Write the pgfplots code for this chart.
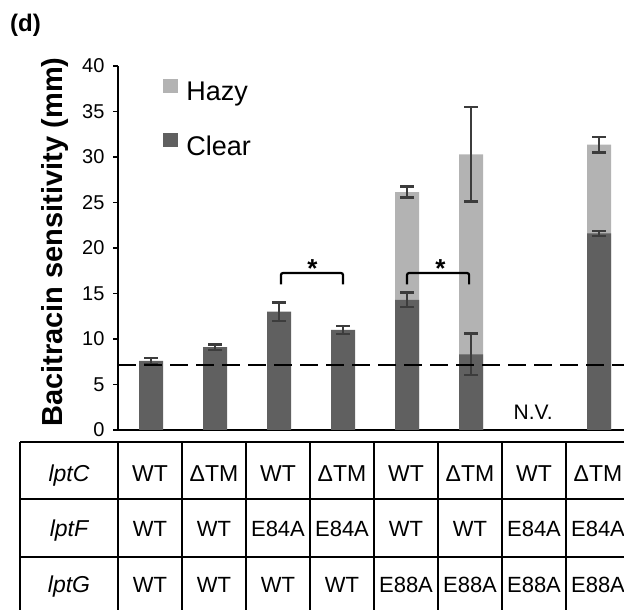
\documentclass[border=0pt]{standalone}
\usepackage{fontspec}
\setmainfont{Liberation Sans}
\usepackage{pgfplots}
\pgfplotsset{compat=1.18}
\definecolor{clearc}{HTML}{606060}
\definecolor{hazyc}{HTML}{B3B3B3}
\definecolor{errc}{HTML}{3C3C3C}
\newcommand{\fs}[1]{\fontsize{#1}{#1}\selectfont}

\begin{document}
\begin{tikzpicture}[x=1pt,y=1pt]
\useasboundingbox (0,0) rectangle (624,610);

\node[anchor=base west, inner sep=0pt, font=\fs{24}\bfseries] at (10,578) {(d)};

\begin{axis}[
    at={(118pt,180pt)}, anchor=south west,
    scale only axis, width=506pt, height=364pt,
    xmin=0.484, xmax=8.39, ymin=0, ymax=40,
    axis x line*=bottom, axis y line*=left,
    axis line style={line width=2pt, -},
    xtick=\empty, ytick={0,5,...,40},
    tick align=outside, major tick length=5pt,
    tick style={line width=1.6pt, black},
    yticklabel style={font=\fs{20}, xshift=-5pt},
    /pgf/number format/assume math mode=true,
    clip=false,
    legend cell align=left,
    legend image code/.code={\fill[#1] (0pt,-1pt) rectangle (15pt,13pt); \path (21pt,0pt);},
    legend style={draw=none, fill=none, at={(axis cs:1.19,38.6)}, anchor=north west,
        inner sep=0pt, font=\fs{27}, row sep=29pt},
]
\addplot[ybar, bar width=24pt, fill=hazyc, draw=none]
    coordinates {(5,26.15) (6,30.3) (8,31.35)};
\addlegendentry{Hazy}
\addplot[ybar, bar width=24pt, fill=clearc, draw=none]
    coordinates {(1,7.6) (2,9.1) (3,13.0) (4,11.0) (5,14.3) (6,8.3) (8,21.6)};
\addlegendentry{Clear}

% error bars
\addplot[errc, line width=2.2pt, draw=none, mark=none, forget plot,
    error bars/.cd, y dir=both, y explicit,
    error bar style={draw=errc, solid, line width=2.2pt},
    error mark options={rotate=90, mark size=7pt, draw=errc, line width=2.2pt}]
    coordinates {(5,26.15) +- (0,0.6) (6,30.3) +- (0,5.2) (8,31.35) +- (0,0.85)};
\addplot[errc, line width=2.2pt, draw=none, mark=none, forget plot,
    error bars/.cd, y dir=both, y explicit,
    error bar style={draw=errc, solid, line width=2.2pt},
    error mark options={rotate=90, mark size=7pt, draw=errc, line width=2.2pt}]
    coordinates {(1,7.6) +- (0,0.35) (2,9.1) +- (0,0.3) (3,13.0) +- (0,1.0)
                 (4,11.0) +- (0,0.45) (5,14.3) +- (0,0.8) (6,8.3) +- (0,2.3)
                 (8,21.6) +- (0,0.3)};

% threshold
\addplot[black, line width=2pt, dash pattern=on 18pt off 8pt, forget plot]
    coordinates {(0.484,7.18) (8.39,7.18)};

% significance brackets
\draw[line width=2.2pt, rounded corners=2pt] (axis cs:3.03,16.0) |- (axis cs:4.0,17.25) -- (axis cs:4.0,16.0);
\draw[line width=2.2pt, rounded corners=2pt] (axis cs:5.0,16.0) |- (axis cs:5.97,17.25) -- (axis cs:5.97,16.0);
\node[anchor=base, font=\fs{26}\bfseries] at (axis cs:3.52,16.8) {*};
\node[anchor=base, font=\fs{26}\bfseries] at (axis cs:5.52,16.8) {*};

\node[anchor=base, font=\fs{21}] at (axis cs:6.97,1.1) {N.V.};
\end{axis}

\node[rotate=90, anchor=base, font=\fs{29}\bfseries] at (62,368) {Bacitracin sensitivity (mm)};

% table
\foreach \yy in {168,111,53,-5} \draw[line width=2pt] (20,\yy) -- (640,\yy);
\foreach \xx in {20,118,182,246,310,374,438,502,566,630} \draw[line width=2pt] (\xx,168) -- (\xx,-10);

\node[anchor=base, font=\fs{23}\itshape] at (69,128) {lptC};
\node[anchor=base, font=\fs{23}\itshape] at (69,73) {lptF};
\node[anchor=base, font=\fs{23}\itshape] at (69,17) {lptG};

\foreach \t [count=\i] in {WT,ΔTM,WT,ΔTM,WT,ΔTM,WT,ΔTM}
    \node[anchor=base, font=\fs{23}] at (86+64*\i,128) {\t};
\foreach \t [count=\i] in {WT,WT,E84A,E84A,WT,WT,E84A,E84A}
    \node[anchor=base, font=\fs{22}] at (86+64*\i,73) {\t};
\foreach \t [count=\i] in {WT,WT,WT,WT,E88A,E88A,E88A,E88A}
    \node[anchor=base, font=\fs{22}] at (86+64*\i,17) {\t};
\end{tikzpicture}
\end{document}
